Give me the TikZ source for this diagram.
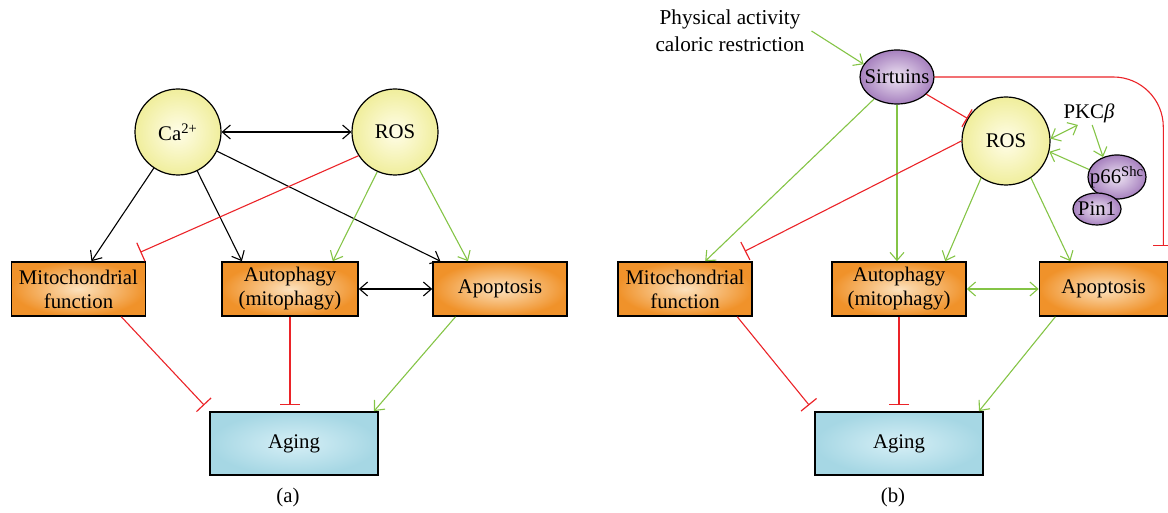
\documentclass[tikz,border=0pt]{standalone}
\usepackage{fontspec}
\setmainfont{Liberation Serif}
\usepackage{tikz}
\usetikzlibrary{arrows.meta}
\usetikzlibrary{shapes.geometric}
\usetikzlibrary{positioning}
\definecolor{actgreen}{RGB}{132,196,70}
\definecolor{inhred}{RGB}{235,35,40}
\definecolor{orin}{RGB}{252,226,190}
\definecolor{orout}{RGB}{240,146,42}
\definecolor{yein}{RGB}{255,253,232}
\definecolor{yeout}{RGB}{240,238,156}
\definecolor{blin}{RGB}{214,239,246}
\definecolor{blout}{RGB}{166,215,228}
\definecolor{puin}{RGB}{238,228,243}
\definecolor{puout}{RGB}{166,128,190}
\tikzset{cell/.style={rectangle,draw=black,line width=0.8pt,shading=radial,inner color=orin,outer color=orout,minimum width=67pt,minimum height=27pt,inner sep=0pt,align=center}}
\tikzset{fate/.style={rectangle,draw=black,line width=0.8pt,shading=radial,inner color=blin,outer color=blout,minimum width=84pt,minimum height=31.5pt}}
\tikzset{ion/.style={circle,draw=black,line width=0.6pt,shading=radial,inner color=yein,outer color=yeout,minimum size=43pt,inner sep=0pt}}
\tikzset{prot/.style={ellipse,draw=black,line width=0.6pt,shading=radial,inner color=puin,outer color=puout,inner sep=-5pt,minimum width=37pt,minimum height=27pt}}
\tikzset{cause/.style={black,line width=0.55pt,-{Straight Barb[length=4pt,width=7pt]}}}
\tikzset{mutual/.style={black,line width=0.55pt,{Straight Barb[length=4pt,width=7pt]}-{Straight Barb[length=4pt,width=7pt]}}}
\tikzset{act/.style={actgreen,line width=0.55pt,-{Straight Barb[length=4pt,width=7pt]}}}
\tikzset{bact/.style={actgreen,line width=0.55pt,{Straight Barb[length=4pt,width=7pt]}-{Straight Barb[length=4pt,width=7pt]}}}
\tikzset{inhib/.style={inhred,line width=0.55pt,-{Bar[width=10pt,line width=0.6pt]}}}
\begin{document}
\begin{tikzpicture}[x=0.5pt,y=-0.5pt,font=\fontsize{10.4}{12}\selectfont]
\useasboundingbox (0,0) rectangle (1168,513);

% (a)
\node[ion] (caA) at (178,132) {Ca\textsuperscript{2+}};
\node[ion] (rosA) at (395,132) {ROS};
\node[cell] (mitoA) at (78.5,289) {Mitochondrial\\function};
\node[cell,minimum width=68pt] (autoA) at (290,289) {Autophagy\\(mitophagy)};
\node[cell] (apopA) at (500,289) {Apoptosis};
\node[fate] (agingA) at (294,443.5) {Aging};
\node (labA) at (288,497) {(a)};

\draw[mutual] (caA) -- (rosA);
\foreach \t in {mitoA.65,autoA.150,apopA.155}
  \draw[cause] (caA) -- (\t);
\draw[act] (rosA.246) -- (autoA.33);
\draw[act] (rosA.303) -- (apopA.139);
\draw[inhib] (rosA.213) -- ([shift={(-6,-9)}]mitoA.north east);
\draw[mutual] (autoA) -- (apopA);
\draw[inhib] (mitoA.327) -- ([shift={(-5,-6)}]agingA.north west);
\draw[inhib,shorten >=3pt] (autoA.south) -- (autoA.south |- agingA.north);
\draw[act] (apopA.212) -- (agingA.22);

% (b)
\node[align=center,font=\fontsize{10.6}{13.5}\selectfont] (phys) at (730,31) {Physical activity\\caloric restriction};
\node[prot] (sirt) at (897,77) {Sirtuins};
\node[ion,minimum size=44pt] (rosB) at (1006,141) {ROS};
\node[inner sep=1pt] (pkc) at (1089,113) {PKC\textit{β}};
\node[prot,minimum width=29pt,minimum height=22pt] (p66) at (1117,177) {p66\textsuperscript{Shc}};
\node[prot,minimum width=24pt,minimum height=16pt] (pin) at (1097,209) {Pin1};
\node[cell] (mitoB) at (685,289) {Mitochondrial\\function};
\node[cell] (autoB) at (899,289) {Autophagy\\(mitophagy)};
\node[cell,minimum width=64pt] (apopB) at (1103.5,289) {Apoptosis};
\node[fate] (agingB) at (899,443.5) {Aging};
\node (labB) at (893,497) {(b)};

\draw[act] (phys.east) -- (sirt.159);
\draw[inhib] (sirt) -- (rosB);
\draw[inhib,rounded corners=25pt,shorten >=7.5pt] (sirt.east) -| ([xshift=-2.5pt]apopB.north east);
\draw[act] (sirt) -- (mitoB.54);
\draw[act] (sirt.south) -- (sirt.south |- autoB.north);
\draw[inhib] (rosB.west) -- ([shift={(-8,-10)}]mitoB.north east);
\draw[act] (rosB.236) -- (autoB.31);
\draw[act] (rosB.304) -- (apopB.140);
\draw[bact] (rosB.3) -- (pkc.227);
\draw[act] (pkc.285) -- (p66.125);
\draw[act] (p66.165) -- (rosB.346);
\draw[bact] (autoB) -- (apopB);
\draw[inhib] (mitoB.332) -- ([shift={(-5,-6)}]agingB.north west);
\draw[inhib,shorten >=3pt] (autoB.south) -- (autoB.south |- agingB.north);
\draw[act] (apopB.210) -- (agingB.22);
\end{tikzpicture}
\end{document}
